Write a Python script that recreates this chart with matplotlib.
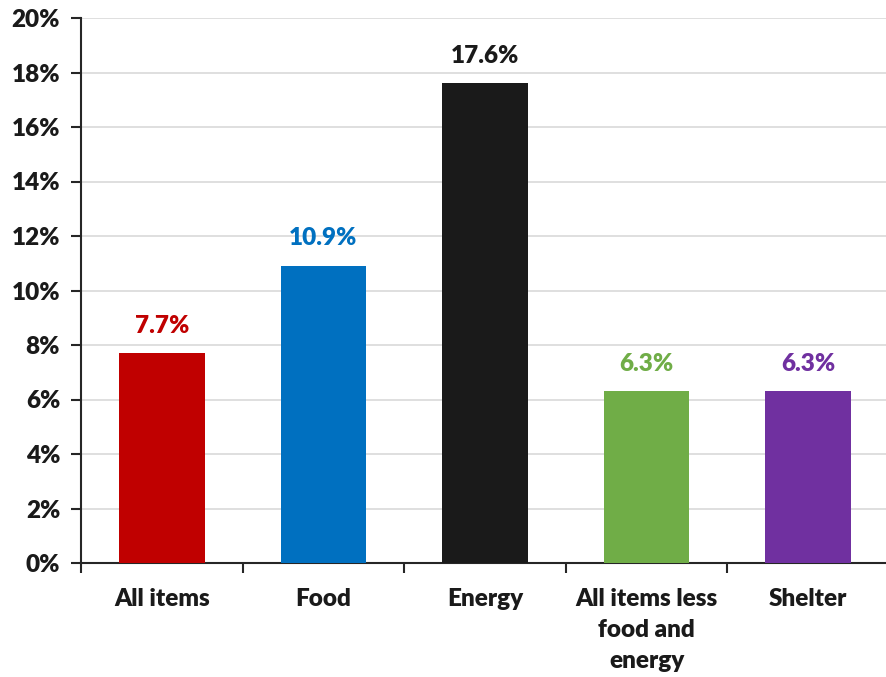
import matplotlib.pyplot as plt
import numpy as np

categories = ['All items', 'Food', 'Energy', 'All items less\nfood and\nenergy', 'Shelter']
values = [7.7, 10.9, 17.6, 6.3, 6.3]
colors = ['#C00000', '#0070C0', '#1A1A1A', '#70AD47', '#7030A0']
yticks = [0, 2, 4, 6, 8, 10, 12, 14, 16, 18, 20]

plt.rcParams['font.family'] = ['Lato', 'DejaVu Sans']
plt.rcParams['text.color'] = '#1A1A1A'
plt.rcParams['xtick.color'] = '#1A1A1A'
plt.rcParams['ytick.color'] = '#1A1A1A'
fw = 'heavy'
fs = 17.5

fig = plt.figure(figsize=(8.86, 6.77), dpi=100)
ax = fig.add_axes([81 / 886, 1 - 563 / 677, 808 / 886, 545 / 677])

x = np.arange(len(categories))
ax.bar(x, values, width=0.53, color=colors, zorder=3)

for xi, v, c in zip(x, values, colors):
    ax.annotate(f'{v:.1f}%', (xi, v), xytext=(0, 12), textcoords='offset points',
                ha='center', va='bottom', color=c, fontsize=fs, fontweight=fw)

ax.set_xlim(-0.5, len(categories) - 0.5)
ax.set_ylim(0, 20)
ax.set_yticks(yticks)
ax.set_yticklabels([f'{t}%' for t in yticks], fontsize=fs, fontweight=fw)
ax.yaxis.grid(True, color='#D9D9D9', linewidth=1.2, zorder=0)

ax.set_xticks(x)
ax.set_xticklabels(categories, fontsize=fs, fontweight=fw, linespacing=1.5)
ax.set_xticks(np.arange(-0.5, len(categories)), minor=True)
ax.tick_params(axis='x', which='major', length=0, pad=18)
ax.tick_params(axis='x', which='minor', length=7, width=1.5, color='#262626')
ax.tick_params(axis='y', length=7, width=1.5, color='#262626', pad=8)

for s in ['top', 'right']:
    ax.spines[s].set_visible(False)
for s in ['left', 'bottom']:
    ax.spines[s].set_linewidth(1.5)
    ax.spines[s].set_color('#262626')

fig.savefig('out.png', dpi=100)
